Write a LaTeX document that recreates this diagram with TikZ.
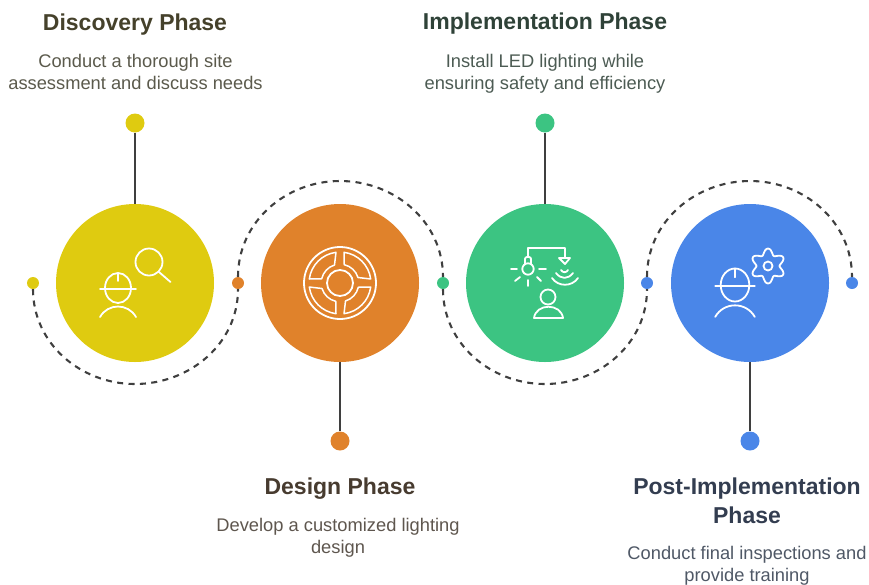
\documentclass[tikz,border=0pt]{standalone}
\usepackage{fontspec}
\setmainfont{Liberation Sans}
\usepackage{tikz}

\definecolor{cyellow}{HTML}{DFCB10}
\definecolor{corange}{HTML}{E0822B}
\definecolor{cgreen}{HTML}{3CC482}
\definecolor{cblue}{HTML}{4A86E8}
\definecolor{cline}{HTML}{3F3F3F}
\definecolor{tyellow}{HTML}{45412B}
\definecolor{torange}{HTML}{473B2F}
\definecolor{tgreen}{HTML}{2F4238}
\definecolor{tblue}{HTML}{333D50}
\definecolor{dyellow}{HTML}{5B5A4C}
\definecolor{dorange}{HTML}{5E564E}
\definecolor{dgreen}{HTML}{4C5B53}
\definecolor{dblue}{HTML}{4F5866}

\newcommand{\workericon}[2]{%
  \begin{scope}[shift={#1},scale=#2]
    \draw[icon line] (0,0) ellipse (13 and 15);
    \draw[icon line] (-18,-1) -- (18,-1);
    \draw[icon line] (0,15) -- (0,7);
    \draw[icon line] (-18,-29) .. controls (-10,-15) and (10,-15) .. (18,-29);
  \end{scope}}

\begin{document}
\begin{tikzpicture}[x=1pt,y=1pt]
            \tikzstyle{phase node}=[circle,minimum size=158pt,inner sep=0pt,node distance=205pt]
            \tikzstyle{big dot}=[circle,minimum size=19pt,inner sep=0pt]
            \tikzstyle{small dot}=[circle,minimum size=12pt,inner sep=0pt]
            \tikzstyle{stem}=[draw=cline,line width=1.8pt]
            \tikzstyle{path line}=[draw=cline,line width=2.1pt,dash pattern=on 6pt off 5.4pt]
            \tikzstyle{icon line}=[draw=white,line width=1.8pt,line cap=round,line join=round]
            \tikzstyle{title}=[align=center,font=\fontsize{23}{28.5}\selectfont\bfseries]
            \tikzstyle{desc}=[align=center,font=\fontsize{18.3}{22}\selectfont]

            \useasboundingbox (0,0) rectangle (869,-584);

            \node[phase node,fill=cyellow] (C1) at (135,-283) {};
            \node[phase node,fill=corange] (C2) [right of=C1] {};
            \node[phase node,fill=cgreen] (C3) [right of=C2] {};
            \node[phase node,fill=cblue] (C4) [right of=C3] {};

            \node[big dot,fill=cyellow,node distance=160pt] (D1) [above of=C1] {};
            \node[big dot,fill=corange,node distance=158pt] (D2) [below of=C2] {};
            \node[big dot,fill=cgreen,node distance=160pt] (D3) [above of=C3] {};
            \node[big dot,fill=cblue,node distance=158pt] (D4) [below of=C4] {};

            \node[small dot,fill=cyellow,node distance=102pt] (S1) [left of=C1] {};
            \node[small dot,fill=corange,node distance=103pt] (S2) [right of=C1] {};
            \node[small dot,fill=cgreen,node distance=103pt] (S3) [right of=C2] {};
            \node[small dot,fill=cblue,node distance=102pt] (S4) [right of=C3] {};
            \node[small dot,fill=cblue,node distance=102pt] (S5) [right of=C4] {};

            \coordinate[below of=C1,node distance=101pt] (A1);
            \coordinate[above of=C2,node distance=102pt] (A2);
            \coordinate[below of=C3,node distance=101pt] (A3);
            \coordinate[above of=C4,node distance=102pt] (A4);

            \draw[stem] (D1) -- (C1);
            \draw[stem] (C2) -- (D2);
            \draw[stem] (D3) -- (C3);
            \draw[stem] (C4) -- (D4);

            \draw[path line] (S1) to[out=-90,in=180] (A1) to[out=0,in=-90] (S2);
            \draw[path line] (S2) to[out=90,in=180] (A2) to[out=0,in=90] (S3);
            \draw[path line] (S3) to[out=-90,in=180] (A3) to[out=0,in=-90] (S4);
            \draw[path line] (S4) to[out=90,in=180] (A4) to[out=0,in=90] (S5);

            % discovery icon
            \workericon{(118,-288)}{1}
            \draw[icon line] (149,-262) circle (13.5);
            \draw[icon line] (159,-272) -- (170.5,-282);

            % design icon
            \begin{scope}[shift={(C2.center)}]
                \draw[icon line] (0,0) circle (36);
                \draw[icon line] (0,0) circle (13);
                \foreach \a in {0,90,180,270} {
                    \draw[icon line,line width=1.5pt,rotate=\a] (4,30.7) arc (82.5:7.5:31) -- (18,5.5) arc (17:77:18.8) -- cycle;
                }
            \end{scope}

            % implementation icon
            \begin{scope}[shift={(C3.center)}]
                \draw[icon line] (-17,26) -- (-17,35) -- (20,35) -- (20,25);
                \draw[icon line] (14,25) -- (25,25) -- (20,19) -- cycle;
                \draw[icon line] (-17,14) circle (5.7);
                \draw[icon line,rounded corners=2pt] (-20,19) -- (-20,26) -- (-14,26) -- (-14,19);
                \draw[icon line] (-34,14) -- (-28,14);
                \draw[icon line] (-6,14) -- (1,14);
                \draw[icon line] (-17,3) -- (-17,-3);
                \draw[icon line] (-30,2) -- (-25,6);
                \draw[icon line] (-4,2) -- (-8,6);
                \draw[icon line] (16,13) .. controls (18,10) and (21,10) .. (23,13);
                \draw[icon line] (11,10) .. controls (16,3.5) and (23,3.5) .. (28,10);
                \draw[icon line] (7,5) .. controls (13,-4) and (27,-4) .. (33,5);
                \draw[icon line] (3,-14) circle (7.5);
                \draw[icon line] (-11,-35) .. controls (-9,-20) and (16,-20) .. (18,-35) -- cycle;
            \end{scope}

            % post implementation icon
            \workericon{(735,-285)}{1.1}
            \begin{scope}[shift={(768,-266)}]
                \draw[icon line] (0,0) circle (4.5);
                \draw[icon line] plot[smooth cycle,samples=72,domain=0:355] (\x:{14.5-3*cos(6*\x)});
            \end{scope}

            \node[title,text=tyellow] (T1) at (135,-24.5) {Discovery Phase};
            \node[desc,text=dyellow] (B1) at (135.5,-72) {Conduct a thorough site\\assessment and discuss needs};
            \node[title,text=torange] (T2) at (340,-488.5) {Design Phase};
            \node[desc,text=dorange] (B2) at (338,-537.5) {Develop a customized lighting\\design};
            \node[title,text=tgreen] (T3) at (545,-24) {Implementation Phase};
            \node[desc,text=dgreen] (B3) at (545,-73.5) {Install LED lighting while\\ensuring safety and efficiency};
            \node[title,text=tblue] (T4) at (747,-501) {Post-Implementation\\Phase};
            \node[desc,text=dblue] (B4) at (747,-565.5) {Conduct final inspections and\\provide training};
        \end{tikzpicture}
\end{document}
